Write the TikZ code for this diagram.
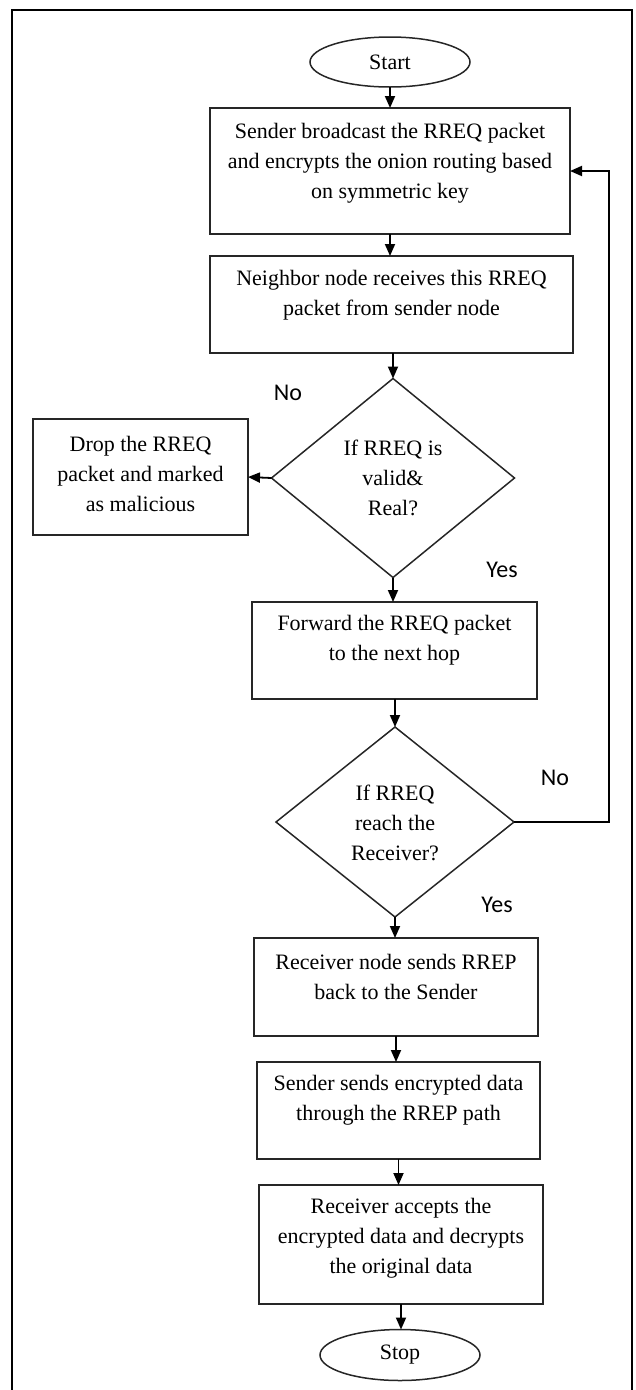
\documentclass[tikz,border=0pt]{standalone}
\usepackage{fontspec}
\setmainfont{Liberation Serif}
\newfontfamily\labfont{Carlito}
\usetikzlibrary{shapes.geometric,arrows.meta}
\begin{document}
\begin{tikzpicture}[x=1pt,y=-1pt,
  every node/.style={inner sep=0pt,outer sep=0pt},
  boxshape/.style={draw=black!85,line width=1.5pt,rectangle},
  oval/.style={draw=black!85,line width=1.5pt,ellipse,font=\fontsize{22}{26}\selectfont},
  decide/.style={draw=black!85,line width=1.5pt,diamond},
  txt/.style={align=center,font=\fontsize{22}{30}\selectfont},
  lab/.style={font=\labfont\fontsize{24}{28}\selectfont},
  flow/.style={line width=1.8pt,-{Triangle[length=12pt,width=10pt]}},
  frame/.style={line width=2.8pt}]
\useasboundingbox (0,0) rectangle (636,1390);
% outer frame
\coordinate (fbl) at (12,1392);
\coordinate (ftl) at (12,10);
\coordinate (ftr) at (632,10);
\coordinate (fbr) at (632,1392);
\draw[frame] (fbl) -- (ftl) -- (ftr) -- (fbr);
% nodes
\node[oval,minimum width=160pt,minimum height=50pt] (start) at (390,62) {Start};
\node[boxshape,minimum width=360pt,minimum height=126pt] (b1) at (390,171) {};
\node[txt] (b1t) at (390,163) {Sender broadcast the RREQ packet\\and encrypts the onion routing based\\on symmetric key};
\node[boxshape,minimum width=363pt,minimum height=97pt] (b2) at (391.5,304.5) {};
\node[txt] (b2t) at (391.5,295) {Neighbor node receives this RREQ\\packet from sender node};
\node[decide,minimum width=243pt,minimum height=199pt,aspect=1.22] (d1) at (393,478) {};
\node[txt] (d1t) at (393,478) {If RREQ is\\valid\&\\Real?};
\node[boxshape,minimum width=215pt,minimum height=116pt] (drop) at (140.5,477) {};
\node[txt] (dropt) at (140.5,474) {Drop the RREQ\\packet and marked\\as malicious};
\node[boxshape,minimum width=285pt,minimum height=97pt] (fwd) at (394.5,650.5) {};
\node[txt] (fwdt) at (394.5,640) {Forward the RREQ packet\\to the next hop};
\node[decide,minimum width=238pt,minimum height=190pt,aspect=1.25] (d2) at (395,822) {};
\node[txt] (d2t) at (395,823) {If RREQ\\reach the\\Receiver?};
\node[boxshape,minimum width=284pt,minimum height=98pt] (recv) at (396,987) {};
\node[txt] (recvt) at (396,977) {Receiver node sends RREP\\back to the Sender};
\node[boxshape,minimum width=283pt,minimum height=97pt] (send) at (398.5,1110.5) {};
\node[txt] (sendt) at (398.5,1100) {Sender sends encrypted data\\through the RREP path};
\node[boxshape,minimum width=284pt,minimum height=119pt] (acc) at (401,1244.5) {};
\node[txt] (acct) at (401,1238) {Receiver accepts the\\encrypted data and decrypts\\the original data};
\node[oval,minimum width=160pt,minimum height=51pt] (stop) at (400,1355) {Stop};
% labels
\node[lab] (no1) at (288,393) {No};
\node[lab] (yes1) at (502,570) {Yes};
\node[lab] (no2) at (555,778) {No};
\node[lab] (yes2) at (497,905) {Yes};
% connectors
\draw[flow] (start.south) -- (start.south |- b1.north);
\draw[flow] (b1.south) -- (b1.south |- b2.north);
\draw[flow] (d1.north |- b2.south) -- (d1.north);
\draw[flow] (d1.west) -- (drop.east);
\draw[flow] (d1.south) -- (d1.south |- fwd.north);
\draw[flow] (d2.north |- fwd.south) -- (d2.north);
\draw[flow] (d2.south) -- (d2.south |- recv.north);
\draw[flow] (recv.south) -- (recv.south |- send.north);
\draw[flow] (send.south) -- (send.south |- acc.north);
\draw[flow] (acc.south) -- (acc.south |- stop.north);
\coordinate (fb) at (609,500);
\draw[flow] (d2.east) -| (fb) |- (b1.east);
\end{tikzpicture}
\end{document}
